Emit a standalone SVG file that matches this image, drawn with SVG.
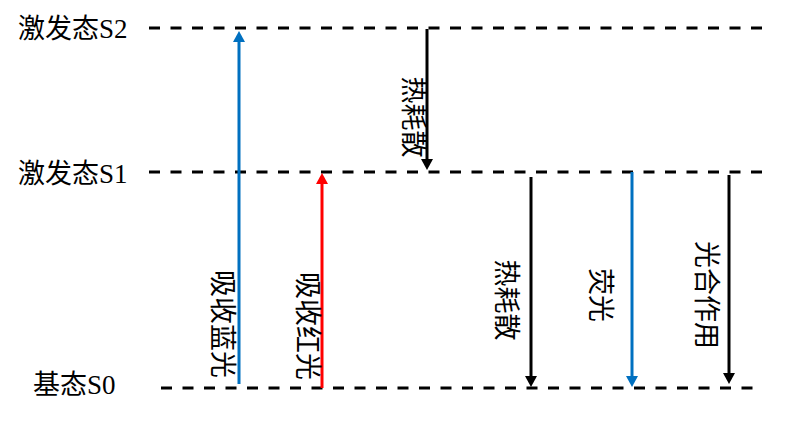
<svg xmlns="http://www.w3.org/2000/svg" width="794" height="429" viewBox="0 0 794 429">
<style>
.lvl{stroke:#000;stroke-width:3;stroke-dasharray:11 10.5;fill:none}
.t{font-family:"Liberation Serif","Noto Sans CJK SC",serif;font-size:27px;fill:#000}
.v{font-family:"Liberation Serif","Noto Sans CJK SC",serif;font-size:27px;fill:#000;text-anchor:middle;dominant-baseline:central}
.a{stroke-width:3;fill:none}
</style>
<defs>
<marker id="hk" markerUnits="userSpaceOnUse" markerWidth="12" markerHeight="14" refX="0" refY="6.5" viewBox="0 -0.5 12 14" orient="auto" overflow="visible"><path d="M0,0.5 L11,6.5 L0,12.5 z" fill="#000"/></marker>
<marker id="hb" markerUnits="userSpaceOnUse" markerWidth="12" markerHeight="14" refX="0" refY="6.5" viewBox="0 -0.5 12 14" orient="auto" overflow="visible"><path d="M0,0.5 L11,6.5 L0,12.5 z" fill="#0070C0"/></marker>
<marker id="hr" markerUnits="userSpaceOnUse" markerWidth="12" markerHeight="14" refX="0" refY="6.5" viewBox="0 -0.5 12 14" orient="auto" overflow="visible"><path d="M0,0.5 L11,6.5 L0,12.5 z" fill="#FF0000"/></marker>
</defs>
<g id="S2"><line class="lvl" x1="149" y1="28" x2="763" y2="28"/><text class="t" x="18" y="38">激发态S2</text></g>
<g id="S1"><line class="lvl" x1="149" y1="172" x2="763" y2="172"/><text class="t" x="18" y="183">激发态S1</text></g>
<g id="S0"><line class="lvl" x1="161" y1="388" x2="753" y2="388"/><text class="t" x="33" y="394">基态S0</text></g>
<g id="connectors">
<line class="a" stroke="#0070C0" x1="239" y1="384" x2="239" y2="42" marker-end="url(#hb)"/>
<line class="a" stroke="#FF0000" x1="322" y1="388" x2="322" y2="184" marker-end="url(#hr)"/>
<line class="a" stroke="#000" x1="427" y1="29" x2="427" y2="159" marker-end="url(#hk)"/>
<line class="a" stroke="#000" x1="531" y1="177" x2="531" y2="376" marker-end="url(#hk)"/>
<line class="a" stroke="#0070C0" x1="632" y1="172" x2="632" y2="376" marker-end="url(#hb)"/>
<line class="a" stroke="#000" x1="729" y1="175" x2="729" y2="373" marker-end="url(#hk)"/>
</g>
<g id="labels">
<text class="v" transform="translate(222,324) rotate(90)">吸收蓝光</text>
<text class="v" transform="translate(307,326) rotate(90)">吸收红光</text>
<text class="v" transform="translate(413,117) rotate(90)">热耗散</text>
<text class="v" transform="translate(506,300) rotate(90)">热耗散</text>
<text class="v" transform="translate(600,295) rotate(90)">荧光</text>
<text class="v" transform="translate(706,295) rotate(90)">光合作用</text>
</g>
</svg>
